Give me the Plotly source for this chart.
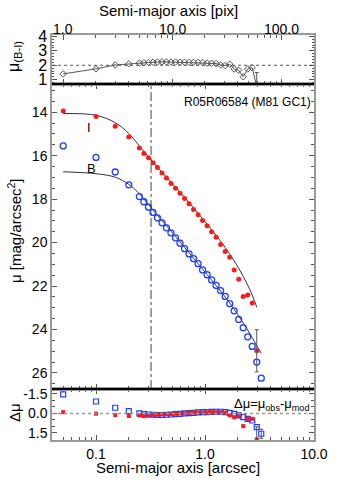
import math
import plotly.graph_objects as go

# semi-major axis of the isophotes [arcsec]
sma = [0.05, 0.10, 0.15, 0.20, 0.25, 0.275, 0.303, 0.333, 0.366, 0.403, 0.443,
       0.487, 0.536, 0.590, 0.649, 0.714, 0.785, 0.864, 0.950, 1.045, 1.150,
       1.265, 1.391, 1.531, 1.684, 1.852, 2.037, 2.241, 2.465, 2.712, 2.983, 3.281]
pix_scale = 0.05  # arcsec / pix

# observed surface brightness
mu_I = [13.94, 14.20, 14.65, 15.14, 15.65, 15.90, 16.10, 16.33, 16.54, 16.80, 17.03,
        17.28, 17.50, 17.73, 17.97, 18.21, 18.48, 18.72, 18.98, 19.23, 19.50,
        19.75, 20.09, 20.41, 20.68, 21.26, 21.69, 22.48, 22.41, 22.78, 24.98]
mu_B = [15.55, 16.08, 16.75, 17.34, 17.88, 18.12, 18.37, 18.61, 18.86, 19.09, 19.32,
        19.55, 19.78, 20.03, 20.28, 20.52, 20.74, 20.97, 21.26, 21.48, 21.72,
        21.97, 22.21, 22.48, 22.81, 23.14, 23.54, 23.92, 24.34, 24.78, 25.50, 26.24]
err_I_last = 0.97

# model profiles
mod_I = [14.06, 14.14, 14.48, 14.98, 15.55, 15.80, 16.06, 16.30, 16.53, 16.76, 16.99,
         17.22, 17.45, 17.68, 17.92, 18.16, 18.40, 18.65, 18.90, 19.15, 19.41,
         19.67, 19.94, 20.22, 20.52, 20.84, 21.18, 21.55, 21.96, 22.42, 22.97]
mod_B = [16.74, 16.83, 16.99, 17.32, 17.75, 18.00, 18.25, 18.50, 18.75, 18.98, 19.22,
         19.47, 19.72, 19.97, 20.22, 20.47, 20.72, 20.97, 21.22, 21.47, 21.72,
         21.97, 22.23, 22.50, 22.78, 23.07, 23.38, 23.70, 24.03, 24.38, 24.74, 25.10]

# colour profile
col_BI = [1.40, 1.75, 2.02, 2.10, 2.15, 2.17, 2.19, 2.21, 2.23, 2.24, 2.23,
          2.22, 2.22, 2.21, 2.21, 2.20, 2.20, 2.20, 2.19, 2.15, 2.14,
          2.12, 2.02, 1.98, 2.08, 1.74, 1.65, 1.20, 1.74, 1.83, 0.50]
err_col_last = 1.0
col_ref = 2.0

# residuals obs - model
res_I = [-0.10, 0.02, 0.13, 0.20, 0.15, 0.20, 0.15, 0.12, 0.10, 0.08, 0.06,
         0.05, 0.03, 0.00, -0.02, -0.04, -0.06, -0.08, -0.08, -0.08, -0.10,
         -0.10, -0.10, -0.05, 0.15, 0.30, 0.20, 0.97, 0.41, 0.41, 2.00]
res_B = [-1.46, -0.92, -0.44, -0.18, 0.00, 0.05, 0.08, 0.10, 0.12, 0.12, 0.10,
         0.08, 0.05, 0.03, 0.00, -0.03, -0.05, -0.08, -0.10, -0.10, -0.12,
         -0.13, -0.13, -0.10, -0.05, 0.03, 0.15, 0.28, 0.42, 0.54, 1.05, 1.56]
err_B_last = 0.35

r_vline = 0.32
label = "R05R06584 (M81 GC1)"

# tick labels
pix_ticks = [1, 10, 100]
pix_ticktext = ['1.0', '10.0', '100.0']

pix = [s / pix_scale for s in sma]

FONT = "Liberation Sans"
GRID = '#999999'
TICK = '#555555'
RED = '#ff1a1a'
BLUE = '#1f3fff'

xd = [52 / 346, 314 / 346]
y_top = [1 - 84 / 482, 1 - 35 / 482]
y_main = [1 - 389 / 482, 1 - 84 / 482]
y_bot = [1 - 440 / 482, 1 - 389 / 482]

def logminor(decades):
    return [m * 10 ** e for e in decades for m in range(2, 10)]

fig = go.Figure()

# top panel: colour
fig.add_trace(go.Scatter(x=pix[:len(col_BI)], y=col_BI, xaxis='x3', yaxis='y3',
                         mode='lines+markers',
                         line=dict(color='#555555', width=1),
                         marker=dict(symbol='diamond-open', size=5, color='#555555',
                                     line=dict(width=1))))
fig.add_trace(go.Scatter(x=[pix[len(col_BI) - 1]], y=[col_BI[-1]], xaxis='x3', yaxis='y3',
                         mode='markers', marker=dict(size=1, opacity=0),
                         error_y=dict(type='data', array=[err_col_last], color='#555555',
                                      thickness=1, width=2)))

# main panel
fig.add_trace(go.Scatter(x=sma[:len(mod_I)], y=mod_I, xaxis='x2', yaxis='y2', mode='lines',
                         line=dict(color='#333333', width=1, shape='spline')))
fig.add_trace(go.Scatter(x=sma, y=mod_B, xaxis='x2', yaxis='y2', mode='lines',
                         line=dict(color='#333333', width=1, shape='spline')))
fig.add_trace(go.Scatter(x=sma[:len(mu_I)], y=mu_I, xaxis='x2', yaxis='y2', mode='markers',
                         marker=dict(symbol='circle', size=5, color=RED)))
fig.add_trace(go.Scatter(x=sma, y=mu_B, xaxis='x2', yaxis='y2', mode='markers',
                         marker=dict(symbol='circle-open', size=6, color=BLUE,
                                     line=dict(width=1.3))))
fig.add_trace(go.Scatter(x=[sma[len(mu_I) - 1]], y=[mu_I[-1]], xaxis='x2', yaxis='y2',
                         mode='markers', marker=dict(size=1, opacity=0),
                         error_y=dict(type='data', array=[err_I_last], color='#555555',
                                      thickness=1, width=2)))

# bottom panel: residuals
fig.add_trace(go.Scatter(x=sma, y=res_B, mode='markers',
                         marker=dict(symbol='square-open', size=5, color=BLUE,
                                     line=dict(width=1.2))))
fig.add_trace(go.Scatter(x=sma[:len(res_I)], y=res_I, mode='markers',
                         marker=dict(symbol='square', size=4, color=RED)))
fig.add_trace(go.Scatter(x=[sma[len(res_I) - 1], sma[-1]], y=[res_I[-1], res_B[-1]],
                         mode='markers', marker=dict(size=1, opacity=0),
                         error_y=dict(type='data', array=[err_I_last, err_B_last],
                                      color='#555555', thickness=1, width=2)))

axis_common = dict(showline=True, linecolor=GRID, linewidth=1.5, mirror='ticks',
                   ticks='inside', tickcolor=TICK, ticklen=5, tickwidth=1,
                   showgrid=False, zeroline=False, automargin=False,
                   tickfont=dict(family=FONT, size=14, color='black'))

xminor = dict(ticks='inside', tickvals=logminor([-2, -1, 0]), ticklen=3, tickcolor=TICK)
xrange = [-1.4037, 1.0]

fig.update_layout(
    width=346, height=482,
    margin=dict(l=0, r=0, t=0, b=0, autoexpand=False),
    paper_bgcolor='white', plot_bgcolor='white',
    showlegend=False,
    font=dict(family=FONT, color='black'),
    xaxis=dict(axis_common, type='log', domain=xd, range=xrange, anchor='y',
               tickvals=[0.1, 1, 10], ticktext=['0.1', '1.0', '10.0'], minor=xminor),
    yaxis=dict(axis_common, domain=y_bot, range=[2.04, -1.88], anchor='x',
               tickvals=[-1.5, 0, 1.5], ticktext=['-1.5', '0.0', '1.5'],
               minor=dict(ticks='inside', dtick=0.5, ticklen=3, tickcolor=TICK)),
    xaxis2=dict(axis_common, type='log', domain=xd, range=xrange, anchor='y2',
                tickvals=[0.1, 1, 10], showticklabels=False, minor=xminor),
    yaxis2=dict(axis_common, domain=y_main, range=[26.74, 12.7], anchor='x2',
                tickvals=[14, 16, 18, 20, 22, 24, 26],
                minor=dict(ticks='inside', dtick=0.5, ticklen=3, tickcolor=TICK)),
    xaxis3=dict(axis_common, type='log', domain=xd, range=[-0.1024, 2.301], anchor='y3',
                side='top', tickvals=pix_ticks, showticklabels=False,
                minor=dict(ticks='inside', tickvals=logminor([0, 1, 2]), ticklen=3,
                           tickcolor=TICK)),
    yaxis3=dict(axis_common, domain=y_top, range=[0.7, 4.1], anchor='x3',
                tickvals=[1, 2, 3, 4], tickfont=dict(family=FONT, size=16, color='black'),
                minor=dict(ticks='inside', dtick=0.2, ticklen=2, tickcolor=TICK)),
)

shapes = [
    dict(type='line', xref='x3 domain', yref='y3', x0=0, x1=1, y0=col_ref, y1=col_ref,
         line=dict(color='#555555', width=1, dash='dot')),
    dict(type='line', xref='x domain', yref='y', x0=0, x1=1, y0=0, y1=0,
         line=dict(color='#999999', width=1.5, dash='dot')),
    dict(type='line', xref='x2', yref='y2 domain', x0=r_vline, x1=r_vline, y0=0, y1=1,
         line=dict(color='#444444', width=1, dash='dashdot')),
    dict(type='line', xref='paper', yref='paper', x0=xd[0], x1=xd[1],
         y0=y_top[0], y1=y_top[0], line=dict(color='black', width=2)),
    dict(type='line', xref='paper', yref='paper', x0=xd[0], x1=xd[1],
         y0=y_main[0], y1=y_main[0], line=dict(color='black', width=2)),
]
fig.update_layout(shapes=shapes)

def ann(text, x, y, size=15, angle=0, xanchor='center', xref='paper'):
    return dict(text=text, x=x, y=y, xref=xref, yref='paper', showarrow=False,
                textangle=angle, xanchor=xanchor, yanchor='middle',
                font=dict(family=FONT, size=size, color='black'))

annotations = [
    ann('Semi-major axis [pix]', 168 / 346, 1 - 10 / 482),
    ann('Semi-major axis [arcsec]', 178 / 346, 1 - 467 / 482),
    ann('μ [mag/arcsec<sup>2</sup>]', 14 / 346, 1 - 231 / 482, angle=-90),
    ann('μ<sub>(B-I)</sub>', 14 / 346, 1 - 57 / 482, size=16, angle=-90),
    ann('Δμ', 14 / 346, 1 - 413 / 482, angle=-90),
    ann(label, 313 / 346, 1 - 102 / 482, size=12, xanchor='right'),
    ann('Δμ=μ<sub>obs</sub>-μ<sub>mod</sub>', 311 / 346, 1 - 404 / 482, size=13,
        xanchor='right'),
    ann('I', 89 / 346, 1 - 128 / 482, size=13),
    ann('B', 92 / 346, 1 - 168 / 482, size=13),
]
# pixel-axis tick labels sit right on top of the colour panel
for v, t in zip(pix_ticks, pix_ticktext):
    annotations.append(ann(t, math.log10(v), 1 - 29 / 482, size=14, xref='x3'))
fig.update_layout(annotations=annotations)

# the page's default body margin would shift the figure by 8 px
fig.write_html("out.html", config={'displayModeBar': False},
               post_script="document.body.style.margin='0px';")
